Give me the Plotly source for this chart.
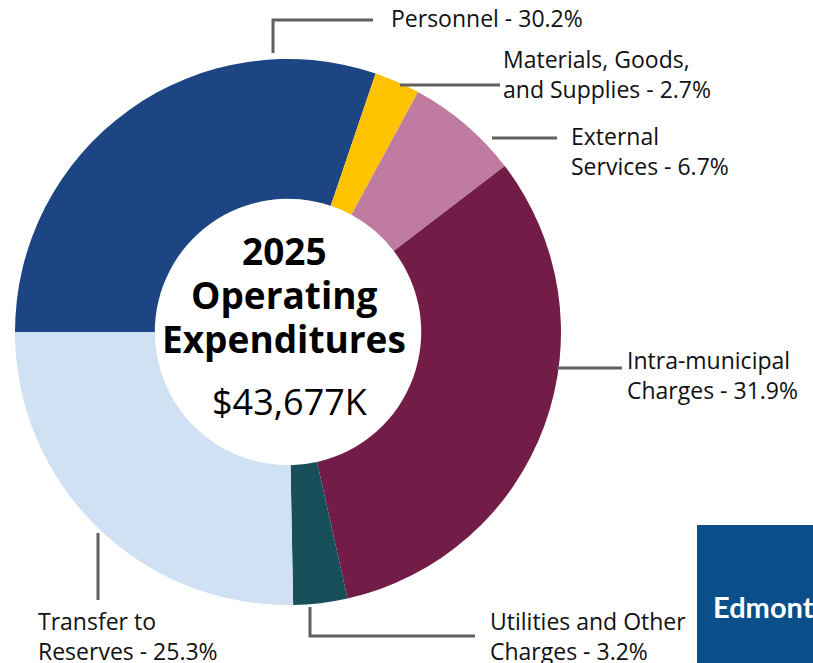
import plotly.graph_objects as go

W, H = 813, 663

categories = ["Personnel", "Materials, Goods,<br>and Supplies", "External<br>Services",
              "Intra-municipal<br>Charges", "Utilities and Other<br>Charges", "Transfer to<br>Reserves"]
shares = [30.2, 2.7, 6.7, 31.9, 3.2, 25.3]
colors = ["#1d4483", "#fdc300", "#c07ba1", "#731c47", "#17505b", "#cfe1f2"]
total_label = "$43,677K"
title_lines = ["2025", "Operating", "Expenditures"]

def px(x):
    return x / W

def py(y):
    return 1 - y / H

cx, cy, R = 288, 332, 273

fig = go.Figure(go.Pie(
    labels=[c.replace("<br>", " ") for c in categories],
    values=shares,
    marker=dict(colors=colors, line=dict(width=0)),
    sort=False,
    direction="clockwise",
    rotation=270,
    hole=0.488,
    textinfo="none",
    hoverinfo="label+percent",
    domain=dict(x=[px(cx - R), px(cx + R)], y=[py(cy + R), py(cy - R)]),
    showlegend=False,
))

FONT = "Open Sans"
LINE = dict(color="#606060", width=3)

# label anchor positions (pixels): text left x, text vertical centre y
label_pos = [(389, 18), (501, 74), (569, 151), (625, 375), (488, 636), (36, 636)]
# leader lines (pixel polylines)
leaders = [
    [(273, 53), (273, 20), (373, 20)],
    [(400, 85), (500, 85)],
    [(492, 138), (557, 138)],
    [(557, 368), (622, 368)],
    [(310, 607), (310, 636), (475, 636)],
    [(98, 533), (98, 600)],
]

annotations = []
shapes = []
for i, cat in enumerate(categories):
    txt = f"{cat} - {shares[i]}%"
    x, y = label_pos[i]
    annotations.append(dict(
        x=px(x), y=py(y), xref="paper", yref="paper", text=txt, showarrow=False,
        xanchor="left", yanchor="middle", align="left",
        font=dict(family=FONT, size=23, color="#111111"),
    ))
    pts = leaders[i]
    path = "M " + " L ".join(f"{px(a)},{py(b)}" for a, b in pts)
    shapes.append(dict(type="path", path=path, xref="paper", yref="paper", line=LINE))

# centre text
for t, y in zip(title_lines, [250, 294, 338]):
    annotations.append(dict(
        x=px(cx - 4), y=py(y), xref="paper", yref="paper", text=f"<b>{t}</b>", showarrow=False,
        xanchor="center", yanchor="middle", font=dict(family=FONT, size=37, color="#000000"),
    ))
annotations.append(dict(
    x=px(cx + 2), y=py(401), xref="paper", yref="paper", text=total_label, showarrow=False,
    xanchor="center", yanchor="middle", font=dict(family=FONT, size=36, color="#000000"),
))

# logo block
shapes.append(dict(type="rect", xref="paper", yref="paper", x0=px(697), x1=px(830), y0=py(680), y1=py(525),
                   fillcolor="#0b4f8a", line=dict(width=0), layer="above"))
annotations.append(dict(
    x=px(711), y=py(606), xref="paper", yref="paper", text="<b>Edmonton</b>", showarrow=False,
    xanchor="left", yanchor="middle", font=dict(family="Lato", size=29, color="#ffffff"),
))

fig.update_layout(
    width=W, height=H,
    margin=dict(l=0, r=0, t=0, b=0),
    paper_bgcolor="white", plot_bgcolor="white",
    annotations=annotations, shapes=shapes,
)

fig.write_html("out.html", config={"displayModeBar": False},
               post_script="document.body.style.margin='0';document.body.style.overflow='hidden';")
